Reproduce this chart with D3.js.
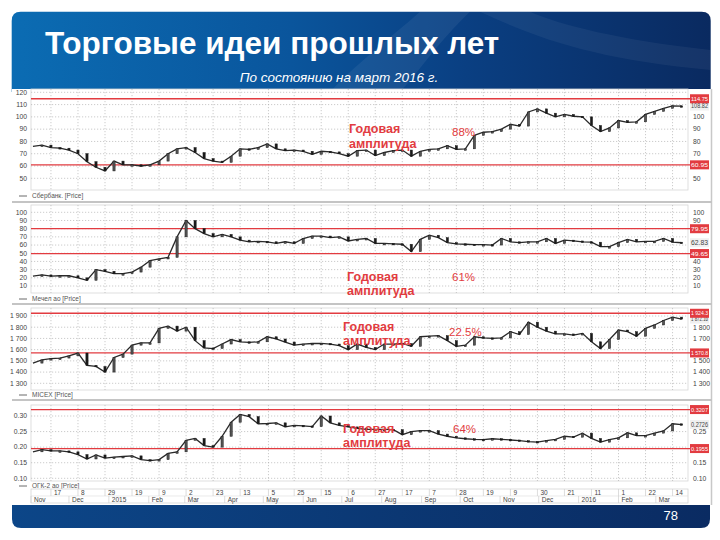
<!DOCTYPE html>
<html><head><meta charset="utf-8">
<script src="https://cdn.jsdelivr.net/npm/d3@7"></script>
<style>body{margin:0;background:#fff}svg{display:block;font-family:"Liberation Sans",Arial,sans-serif}</style>
</head><body><svg id="c" width="720" height="540"></svg>
<script>
// ---------- DATA ----------
const firstWeek = new Date(2014, 10, 3), lastWeek = new Date(2016, 2, 22);
const sber = [76,77,75,74.5,73,70,63.5,59,56,64,61,61,60,61,64,70,74,75,71,66,64,63,68,74,73.5,75,78,74,72.5,73,72,69.5,72,71.5,70,68,72.5,73,68.5,71,72.5,73,68,72,73.5,74,76.5,73.5,74,85,87.5,88,90,94,92.5,104,106.5,103,100,102,100.5,100,93,88,91,97,95.5,96,102,104.5,107,109,108.82];
const mechel = [22,23.5,22,22.5,22.5,20,17,30,28,25,25,27,33,41,43,45,70,90,80,74,70,73,70,66,64,64.5,64,62,64,62,68,71,71,69,70,65,67,68,62,62,61.5,61,52,67,72,69,63,61.5,61,60.5,60.5,60,68,64,63,64,64,68,62,66,65,64,63.5,58,58,63,67,64,64.5,64.5,68,63.5,62.83];
const micex = [1480,1508,1520,1525,1545,1570,1460,1450,1400,1530,1560,1640,1660,1660,1790,1810,1765,1800,1680,1615,1610,1650,1690,1670,1665,1670,1715,1695,1668,1640,1650,1655,1656,1650,1635,1600,1650,1620,1600,1650,1650,1655,1630,1715,1720,1725,1680,1630,1640,1715,1705,1700,1705,1760,1735,1845,1800,1765,1740,1740,1730,1745,1670,1610,1690,1775,1760,1720,1790,1820,1860,1890,1872.16];
const ogk = [0.185,0.192,0.188,0.188,0.185,0.176,0.162,0.175,0.165,0.168,0.170,0.172,0.160,0.157,0.160,0.180,0.185,0.222,0.228,0.205,0.200,0.235,0.280,0.305,0.298,0.275,0.276,0.278,0.265,0.270,0.268,0.266,0.300,0.278,0.270,0.265,0.260,0.257,0.257,0.257,0.256,0.240,0.250,0.253,0.253,0.242,0.235,0.230,0.227,0.225,0.224,0.227,0.225,0.223,0.221,0.218,0.216,0.221,0.225,0.235,0.232,0.245,0.228,0.216,0.224,0.230,0.246,0.237,0.237,0.245,0.252,0.275,0.2726];
const tickDates = ["2014-11-17","2014-12-08","2014-12-29","2015-01-19","2015-02-09","2015-03-02","2015-03-23","2015-04-13","2015-05-05","2015-05-25","2015-06-15","2015-07-06","2015-07-27","2015-08-17","2015-09-07","2015-09-28","2015-10-19","2015-11-09","2015-11-30","2015-12-21","2016-01-11","2016-02-01","2016-02-22","2016-03-14"];
const monthLabels = ["Nov","Dec","2015","Feb","Mar","Apr","May","Jun","Jul","Aug","Sep","Oct","Nov","Dec","2016","Feb","Mar"];
const seriesNames = ["Сбербанк. [Price]","Мечел ао [Price]","MICEX [Price]","ОГК-2 ао [Price]"];
const levels = [[114.75,60.95],[79.95,49.65],[1924.3,1570.8],[0.3207,0.1955]];
const levelLabels = [["114.75","60.95"],["79.95","49.65"],["1 924.3","1 570.8"],["0.3207","0.1955"]];
const lastLabels = ["108.82","62.83","1 872.16","0.2726"];
const amplitudes = ["88%","61%","22.5%","64%"];
const annWord1 = "Годовая", annWord2 = "амплитуда";
const titleText = "Торговые идеи прошлых лет";
const subtitleText = "По состоянию на март 2016 г.";
const pageNumber = "78";

// ---------- LAYOUT ----------
const svg = d3.select("#c");
const defs = svg.append("defs");
const g1 = defs.append("linearGradient").attr("id","hdr").attr("x1",0).attr("x2",1).attr("y1",0).attr("y2",0);
[[0,"#0b6cb3"],[0.4,"#0a559c"],[0.65,"#0a3f82"],[1,"#0a2a60"]].forEach(s=>g1.append("stop").attr("offset",s[0]).attr("stop-color",s[1]));
const g2 = defs.append("linearGradient").attr("id","ftr").attr("x1",0).attr("x2",1).attr("y1",0).attr("y2",0);
[[0,"#0c4688"],[1,"#0a2b62"]].forEach(s=>g2.append("stop").attr("offset",s[0]).attr("stop-color",s[1]));

const L=11.7, R=710.7, T=11.7, B=92, r=9;
svg.append("path").attr("fill","url(#hdr)")
  .attr("d",`M${L},${B} L${L},${T+r} Q${L},${T} ${L+r},${T} L${R-r},${T} Q${R},${T} ${R},${T+r} L${R},${B} Z`);
svg.append("path").attr("fill","#ffffff").attr("opacity",0.06)
  .attr("d",`M330,${B} C360,60 400,30 420,${T} L470,${T} C440,40 420,70 400,${B} Z`);
svg.append("path").attr("fill","#ffffff").attr("opacity",0.05)
  .attr("d",`M480,${T} C540,40 600,60 ${R},70 L${R},50 C620,40 560,25 530,${T} Z`);
svg.append("text").attr("x",45).attr("y",54).attr("fill","#fff").attr("font-weight","bold")
  .attr("font-size",31.5).text(titleText);
svg.append("text").attr("x",339).attr("y",81.5).attr("fill","#fff").attr("font-style","italic")
  .attr("font-size",13.5).attr("text-anchor","middle").text(subtitleText);

const fT=505, fB=528, fL=12, fR=710;
svg.append("path").attr("fill","url(#ftr)")
  .attr("d",`M${fL},${fT} L${fR},${fT} L${fR},${fB-r} Q${fR},${fB} ${fR-r},${fB} L${fL+r},${fB} Q${fL},${fB} ${fL},${fB-r} Z`);
svg.append("text").attr("x",678).attr("y",520).attr("fill","#fff").attr("font-size",13)
  .attr("text-anchor","end").text(pageNumber);

svg.append("rect").attr("x",12).attr("y",89).attr("width",700).attr("height",416).attr("fill","#fff");
svg.append("line").attr("x1",711.5).attr("x2",711.5).attr("y1",89).attr("y2",505).attr("stroke","#c8c8c8").attr("stroke-width",1.5);

const parse = d3.timeParse("%Y-%m-%d");
const ticks = tickDates.map(parse);
const weeks = d3.timeMonday.range(firstWeek, lastWeek);
const x = d3.scaleTime().domain([new Date(2014,10,1,12), new Date(2016,2,26)]).range([31, 688]);

const spaceLocale = d3.formatLocale({decimal:".", thousands:" ", grouping:[3], currency:["",""]});
const panels = [
  {data:sber, domain:[50,120], range:[178.3,92.3], nt:7, box:[89,190], legendY:196, sepY:202, fmt:d3.format("d"),
   ann:{x:349,y1:133,y2:148,px:452,py:136}},
  {data:mechel, domain:[10,100], range:[286,212.3], nt:9, box:[205,293], legendY:299, sepY:304, fmt:d3.format("d"),
   ann:{x:347,y1:281,y2:295,px:452,py:281}},
  {data:micex, domain:[1300,1900], range:[383.3,316], nt:6, box:[308,390], legendY:395, sepY:400, fmt:spaceLocale.format(","),
   ann:{x:343,y1:331,y2:345,px:449,py:336}},
  {data:ogk, domain:[0.10,0.30], range:[478.3,416], nt:4, box:[405,481], legendY:486, sepY:null, fmt:d3.format(".2f"),
   ann:{x:343,y1:433,y2:447,px:453,py:433}}
];
const red = "#e23b40";

panels.forEach((p,k)=>{
  const y = d3.scaleLinear().domain(p.domain).range(p.range);
  const g = svg.append("g");
  const x0 = 31, x1 = 688;
  g.append("rect").attr("x",x0).attr("y",p.box[0]).attr("width",x1-x0).attr("height",p.box[1]-p.box[0])
    .attr("fill","none").attr("stroke","#d6d6d6").attr("stroke-width",0.8);
  const yt = y.ticks(p.nt);
  g.selectAll(".hg").data(yt).join("line")
    .attr("x1",x0).attr("x2",x1).attr("y1",d=>y(d)).attr("y2",d=>y(d))
    .attr("stroke","#a8a8a8").attr("stroke-width",0.6).attr("stroke-dasharray","1.2,1.8");
  g.selectAll(".vg").data(ticks).join("line")
    .attr("x1",d=>x(d)).attr("x2",d=>x(d)).attr("y1",p.box[0]).attr("y2",p.box[1])
    .attr("stroke","#a8a8a8").attr("stroke-width",0.6).attr("stroke-dasharray","1.2,1.8");
  g.selectAll(".lt").data(yt).join("text").attr("x",27).attr("y",d=>y(d)+2.3)
    .attr("text-anchor","end").attr("font-size",6.8).attr("fill","#444").text(p.fmt);
  // right tick labels, skipping those hidden behind the value boxes
  const boxYs = levels[k].map(y).concat([y(p.data[p.data.length-1])]);
  const rt = yt.filter(t=>boxYs.every(by=>Math.abs(y(t)-by)>7));
  g.selectAll(".rt").data(rt).join("text").attr("x",693).attr("y",d=>y(d)+2.3)
    .attr("font-size",6.8).attr("fill","#444").text(p.fmt);
  g.selectAll(".lv").data(levels[k]).join("line")
    .attr("x1",x0).attr("x2",691).attr("y1",d=>y(d)).attr("y2",d=>y(d))
    .attr("stroke",red).attr("stroke-width",1.3);
  // price line + candle bodies
  g.append("path").datum(p.data).attr("fill","none").attr("stroke","#2a2a2a").attr("stroke-width",1.3)
    .attr("d",d3.line().x((d,i)=>x(weeks[i])).y(d=>y(d)));
  p.data.forEach((v,i)=>{
    if(i===0) return;
    const a=y(p.data[i-1]), b=y(v), up=v>=p.data[i-1];
    g.append("rect").attr("x",x(weeks[i])-1.1).attr("width",2.2)
      .attr("y",Math.min(a,b)).attr("height",Math.max(1.5,Math.abs(a-b)))
      .attr("fill",up?"#555":"#1a1a1a").attr("stroke","#1a1a1a").attr("stroke-width",0.5);
  });
  const ly = y(p.data[p.data.length-1]);
  g.append("rect").attr("x",690).attr("y",ly-4.5).attr("width",19).attr("height",9).attr("fill","#f0f0f0");
  g.append("text").attr("x",691).attr("y",ly+2.3).attr("font-size",6.3).attr("fill","#444")
    .attr("textLength",17).attr("lengthAdjust","spacingAndGlyphs").text(lastLabels[k]);
  levels[k].forEach((v,j)=>{
    g.append("rect").attr("x",690).attr("y",y(v)-4.5).attr("width",19).attr("height",9).attr("fill",red);
    g.append("text").attr("x",691).attr("y",y(v)+2.2).attr("font-size",6.2).attr("fill","#fff")
      .attr("textLength",17).attr("lengthAdjust","spacingAndGlyphs").text(levelLabels[k][j]);
  });
  g.append("line").attr("x1",19).attr("x2",27).attr("y1",p.legendY).attr("y2",p.legendY).attr("stroke","#444").attr("stroke-width",0.8);
  g.append("text").attr("x",32).attr("y",p.legendY+2.3).attr("font-size",6.5).attr("fill","#555").text(seriesNames[k]);
  if(p.sepY!==null) g.append("line").attr("x1",12).attr("x2",712).attr("y1",p.sepY).attr("y2",p.sepY)
    .attr("stroke","#c4c4c4").attr("stroke-width",2);
  const a = p.ann;
  g.append("text").attr("x",a.x).attr("y",a.y1).attr("font-size",12.5).attr("font-weight","bold").attr("fill",red).text(annWord1);
  g.append("text").attr("x",a.x).attr("y",a.y2).attr("font-size",12.5).attr("font-weight","bold").attr("fill",red).text(annWord2);
  g.append("text").attr("x",a.px).attr("y",a.py).attr("font-size",11.5).attr("fill",red).text(amplitudes[k]);
});

const ax = svg.append("g");
const aT=489, aM=496, aB=503;
ax.append("rect").attr("x",31).attr("y",aT).attr("width",657).attr("height",aB-aT).attr("fill","#fff").attr("stroke","#cfcfcf").attr("stroke-width",0.7);
ax.append("line").attr("x1",31).attr("x2",688).attr("y1",aM).attr("y2",aM).attr("stroke","#dcdcdc").attr("stroke-width",0.6);
ax.selectAll(".dt").data(ticks).join("line").attr("x1",d=>x(d)).attr("x2",d=>x(d)).attr("y1",aT).attr("y2",aM).attr("stroke","#cfcfcf").attr("stroke-width",0.7);
ax.selectAll(".dl").data(ticks).join("text").attr("x",d=>x(d)+3).attr("y",aM-1.3).attr("font-size",6.5).attr("fill","#444").text(d=>d.getDate());
const months = d3.timeMonth.range(new Date(2014,10,1), new Date(2016,3,1));
ax.selectAll(".mt").data(months).join("line").attr("x1",d=>Math.max(31,x(d))).attr("x2",d=>Math.max(31,x(d))).attr("y1",aM).attr("y2",aB).attr("stroke","#cfcfcf").attr("stroke-width",0.7);
ax.selectAll(".ml").data(months).join("text").attr("x",d=>Math.max(31,x(d))+3).attr("y",aB-1.3).attr("font-size",6.5).attr("fill","#444").text((d,i)=>monthLabels[i]);
</script></body></html>
